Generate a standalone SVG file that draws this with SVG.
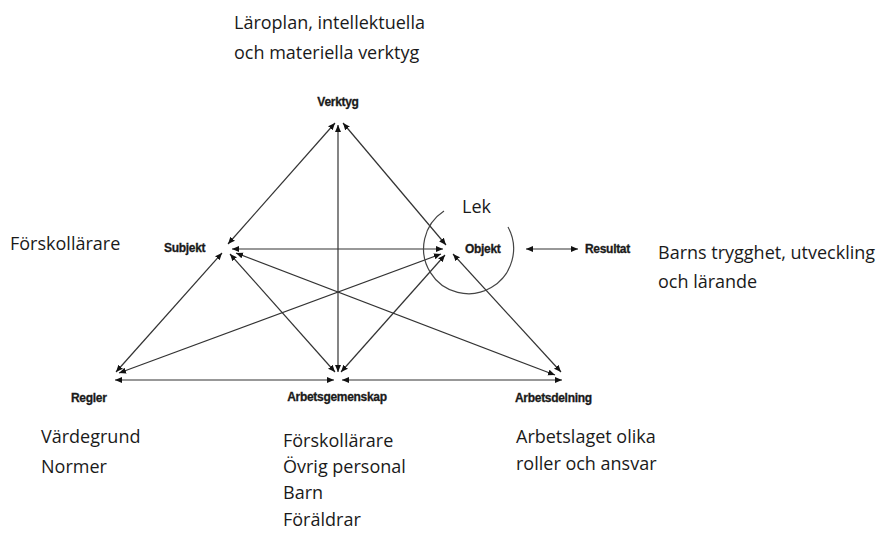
<svg xmlns="http://www.w3.org/2000/svg" width="887" height="534" viewBox="0 0 887 534">
<style>
.node{font-family:"Liberation Sans",Arial,sans-serif;font-weight:bold;font-size:12px;fill:#1a1a1a;stroke:#1a1a1a;stroke-width:0.3;letter-spacing:-0.3px}
.txt{font-family:"Open Sans","Liberation Sans",sans-serif;font-size:18px;fill:#1a1a1a}
.c line{stroke:#333;stroke-width:1.2;marker-start:url(#ah);marker-end:url(#ah)}
</style>
<defs>
<marker id="ah" markerUnits="userSpaceOnUse" markerWidth="8" markerHeight="7" refX="7" refY="3" orient="auto-start-reverse" viewBox="0 0 8 6">
<path d="M0,0 L7,3 L0,6 z" fill="#111"/>
</marker>
</defs>
<rect width="887" height="534" fill="#fff"/>
<g id="connectors" class="c">
<line x1="335" y1="123" x2="228" y2="244"/>
<line x1="343" y1="123" x2="446" y2="245"/>
<line x1="338" y1="125" x2="338" y2="372"/>
<line x1="232" y1="249" x2="443" y2="249"/>
<line x1="222" y1="253" x2="116" y2="372"/>
<line x1="230" y1="254" x2="335" y2="372"/>
<line x1="236" y1="253" x2="555" y2="375"/>
<line x1="441" y1="254" x2="119" y2="373"/>
<line x1="445" y1="255" x2="341" y2="372"/>
<line x1="453" y1="254" x2="561" y2="372"/>
<line x1="115" y1="380" x2="334" y2="380"/>
<line x1="342" y1="380" x2="562" y2="380"/>
<line x1="526" y1="249" x2="578" y2="249"/>
</g>
<g id="lek">
<path d="M444,211 A45,45 0 1 0 508,227" fill="none" stroke="#444" stroke-width="1.2"/>
<text class="txt" x="462" y="213">Lek</text>
</g>
<g id="verktyg">
<text class="node" x="338" y="106" text-anchor="middle">Verktyg</text>
<text class="txt" x="234" y="29">Läroplan, intellektuella</text>
<text class="txt" x="234" y="59">och materiella verktyg</text>
</g>
<g id="subjekt">
<text class="node" x="164" y="252">Subjekt</text>
<text class="txt" x="10" y="250">Förskollärare</text>
</g>
<g id="objekt">
<text class="node" x="465" y="253">Objekt</text>
</g>
<g id="resultat">
<text class="node" x="585" y="253">Resultat</text>
<text class="txt" x="658" y="259">Barns trygghet, utveckling</text>
<text class="txt" x="658" y="288">och lärande</text>
</g>
<g id="regler">
<text class="node" x="71" y="402">Regler</text>
<text class="txt" x="41" y="443">Värdegrund</text>
<text class="txt" x="41" y="473">Normer</text>
</g>
<g id="arbetsgemenskap">
<text class="node" x="337" y="401" text-anchor="middle">Arbetsgemenskap</text>
<text class="txt" x="283" y="447">Förskollärare</text>
<text class="txt" x="283" y="473">Övrig personal</text>
<text class="txt" x="283" y="499">Barn</text>
<text class="txt" x="283" y="526">Föräldrar</text>
</g>
<g id="arbetsdelning">
<text class="node" x="515" y="402">Arbetsdelning</text>
<text class="txt" x="516" y="443">Arbetslaget olika</text>
<text class="txt" x="516" y="470">roller och ansvar</text>
</g>
</svg>
